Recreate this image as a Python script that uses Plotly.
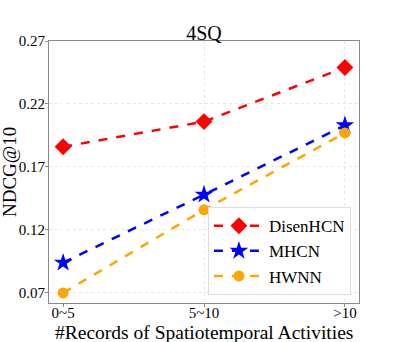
import plotly.graph_objects as go

categories = ["0~5", "5~10", ">10"]
disenhcn = [0.186, 0.206, 0.249]
mhcn = [0.094, 0.148, 0.203]
hwnn = [0.070, 0.136, 0.197]
y_ticks = [0.07, 0.12, 0.17, 0.22, 0.27]

font = "Liberation Serif, Times New Roman, serif"

fig = go.Figure()

series = [
    ("DisenHCN", disenhcn, "red", "diamond", 13),
    ("MHCN", mhcn, "blue", "star", 14),
    ("HWNN", hwnn, "orange", "circle", 11),
]
for name, vals, color, symbol, size in series:
    fig.add_trace(
        go.Scatter(x=[0, 1, 2], y=vals, name=name, mode="lines+markers",
                   line=dict(color=color, width=2.5, dash="dash"),
                   marker=dict(symbol=symbol, size=size, color=color))
    )

fig.update_layout(
    width=399, height=342,
    margin=dict(l=49, r=40, t=41, b=39),
    plot_bgcolor="white", paper_bgcolor="white",
    font=dict(family=font, color="black"),
    title=dict(text="4SQ", x=(49 + 155) / 399, xanchor="center",
               y=1 - 33 / 342, yanchor="middle", font=dict(size=20)),
    showlegend=True,
    legend=dict(x=0.974, xanchor="right", y=0.03, yanchor="bottom",
                bgcolor="white", bordercolor="#dddddd", borderwidth=1,
                font=dict(size=17), tracegroupgap=0, itemwidth=50),
    annotations=[
        dict(text="#Records of Spatiotemporal Activities", xref="paper", yref="paper",
             x=0.5, y=-(332 - 303) / 262, xanchor="center", yanchor="middle",
             showarrow=False, font=dict(size=19.5)),
        dict(text="NDCG@10", xref="paper", yref="paper", textangle=-90,
             x=(9 - 49) / 310, y=0.5, xanchor="center", yanchor="middle",
             showarrow=False, font=dict(size=19)),
    ],
)

fig.update_xaxes(
    tickvals=[0, 1, 2], ticktext=categories, range=[-0.1, 2.1],
    showline=True, linecolor="#888888", linewidth=1, mirror=True,
    ticks="outside", ticklen=3, tickcolor="#888888",
    showgrid=True, gridcolor="#e6e6e6", griddash="dot",
    tickfont=dict(size=15), automargin=False, ticklabelstandoff=-7,
)
fig.update_yaxes(
    tickvals=y_ticks, ticktext=["%.2f" % v for v in y_ticks], range=[0.062, 0.27],
    showline=True, linecolor="#888888", linewidth=1, mirror=True,
    ticks="outside", ticklen=3, tickcolor="#888888",
    showgrid=True, gridcolor="#e6e6e6", griddash="dot",
    tickfont=dict(size=15), automargin=False, ticklabelstandoff=-3,
)

fig.write_html("out.html", config={"displayModeBar": False},
               post_script="document.body.style.margin='0';")
